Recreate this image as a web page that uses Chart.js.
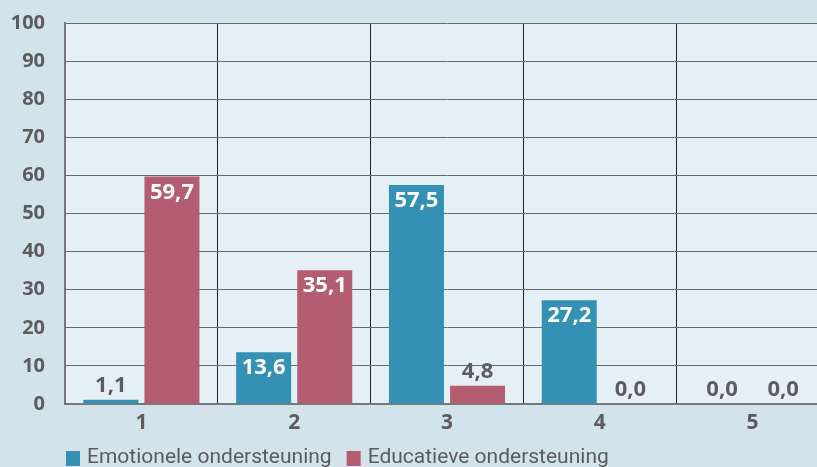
<!DOCTYPE html>
<html>
<head>
<meta charset="utf-8">
<script src="https://cdn.jsdelivr.net/npm/chart.js@4.4.1/dist/chart.umd.min.js"></script>
<style>
  html, body { margin: 0; padding: 0; background: #d2e3ec; overflow: hidden; }
  #wrap { width: 829px; height: 480px; }
</style>
</head>
<body>
<div id="wrap"><canvas id="chart" width="829" height="480"></canvas></div>
<script>
// data
const categories = ["1", "2", "3", "4", "5"];
const emotioneel = [1.1, 13.6, 57.5, 27.2, 0.0];
const educatief = [59.7, 35.1, 4.8, 0.0, 0.0];
const yTicks = [0, 10, 20, 30, 40, 50, 60, 70, 80, 90, 100];

const textGrey = "#5c5c60";

// lichte achtergrond voor het plotgebied
const plotBg = {
    id: "plotBg",
    beforeDraw(chart) {
        const { ctx, chartArea } = chart;
        ctx.save();
        ctx.fillStyle = "#e4f0f6";
        ctx.fillRect(chartArea.left, chartArea.top, chartArea.right - chartArea.left, chartArea.bottom - chartArea.top);
        ctx.restore();
    }
};

// waardes op de staven
const valueLabels = {
    id: "valueLabels",
    afterDatasetsDraw(chart) {
        const ctx = chart.ctx;
        ctx.save();
        ctx.font = "bold 22px 'Open Sans'";
        ctx.textAlign = "center";
        ctx.textBaseline = "alphabetic";
        chart.data.datasets.forEach((ds, i) => {
            chart.getDatasetMeta(i).data.forEach((bar, j) => {
                const v = ds.data[j];
                const txt = v.toFixed(1).replace(".", ",");
                if (v >= 10) {
                    ctx.fillStyle = "#ffffff";
                    ctx.fillText(txt, bar.x, bar.y + 22);
                } else {
                    ctx.fillStyle = textGrey;
                    ctx.fillText(txt, bar.x, bar.y - 8);
                }
            });
        });
        ctx.restore();
    }
};

// legenda onder de grafiek, links uitgelijnd met het plotgebied
const bottomLegend = {
    id: "bottomLegend",
    afterDraw(chart) {
        const ctx = chart.ctx;
        let x = chart.chartArea.left + 1;
        const y = 458;
        ctx.save();
        ctx.font = "21px Roboto";
        ctx.textBaseline = "middle";
        chart.data.datasets.forEach((ds) => {
            ctx.fillStyle = ds.backgroundColor;
            ctx.fillRect(x, y - 7, 14, 15);
            ctx.fillStyle = textGrey;
            ctx.fillText(ds.label, x + 21, y);
            x += 21 + ctx.measureText(ds.label).width + 15;
        });
        ctx.restore();
    }
};

const ctx = document.getElementById("chart").getContext("2d");
const chart = new Chart(ctx, {
    type: "bar",
    data: {
        labels: categories,
        datasets: [
            {
                label: "Emotionele ondersteuning",
                data: emotioneel,
                backgroundColor: "#3591b3",
            },
            {
                label: "Educatieve ondersteuning",
                data: educatief,
                backgroundColor: "#b55d70",
            },
        ],
    },
    options: {
        responsive: false,
        animation: false,
        devicePixelRatio: 1,
        layout: { padding: { top: 23, left: 0, right: 0, bottom: 36 } },
        plugins: {
            legend: { display: false },
            tooltip: { enabled: false },
        },
        scales: {
            x: {
                grid: { color: "#222222", lineWidth: 1, drawTicks: false, offset: true },
                border: { color: "#777777", width: 2 },
                ticks: {
                    color: textGrey,
                    padding: 6,
                    font: { family: "Open Sans", size: 21, weight: "bold" },
                },
                afterFit(scale) { scale.height = 40; },
            },
            y: {
                min: 0,
                max: 100,
                afterBuildTicks(scale) {
                    scale.ticks = yTicks.map((v) => ({ value: v }));
                },
                grid: { color: "#6a6a6a", lineWidth: 1, drawTicks: false },
                border: { color: "#777777", width: 2 },
                ticks: {
                    color: textGrey,
                    padding: 20,
                    font: { family: "Open Sans", size: 20, weight: "bold" },
                },
                afterFit(scale) {
                    scale.width = 65;
                    scale.paddingTop = 0;
                    scale.paddingBottom = 0;
                },
            },
        },
    },
    plugins: [plotBg, valueLabels, bottomLegend],
});
</script>
</body>
</html>
